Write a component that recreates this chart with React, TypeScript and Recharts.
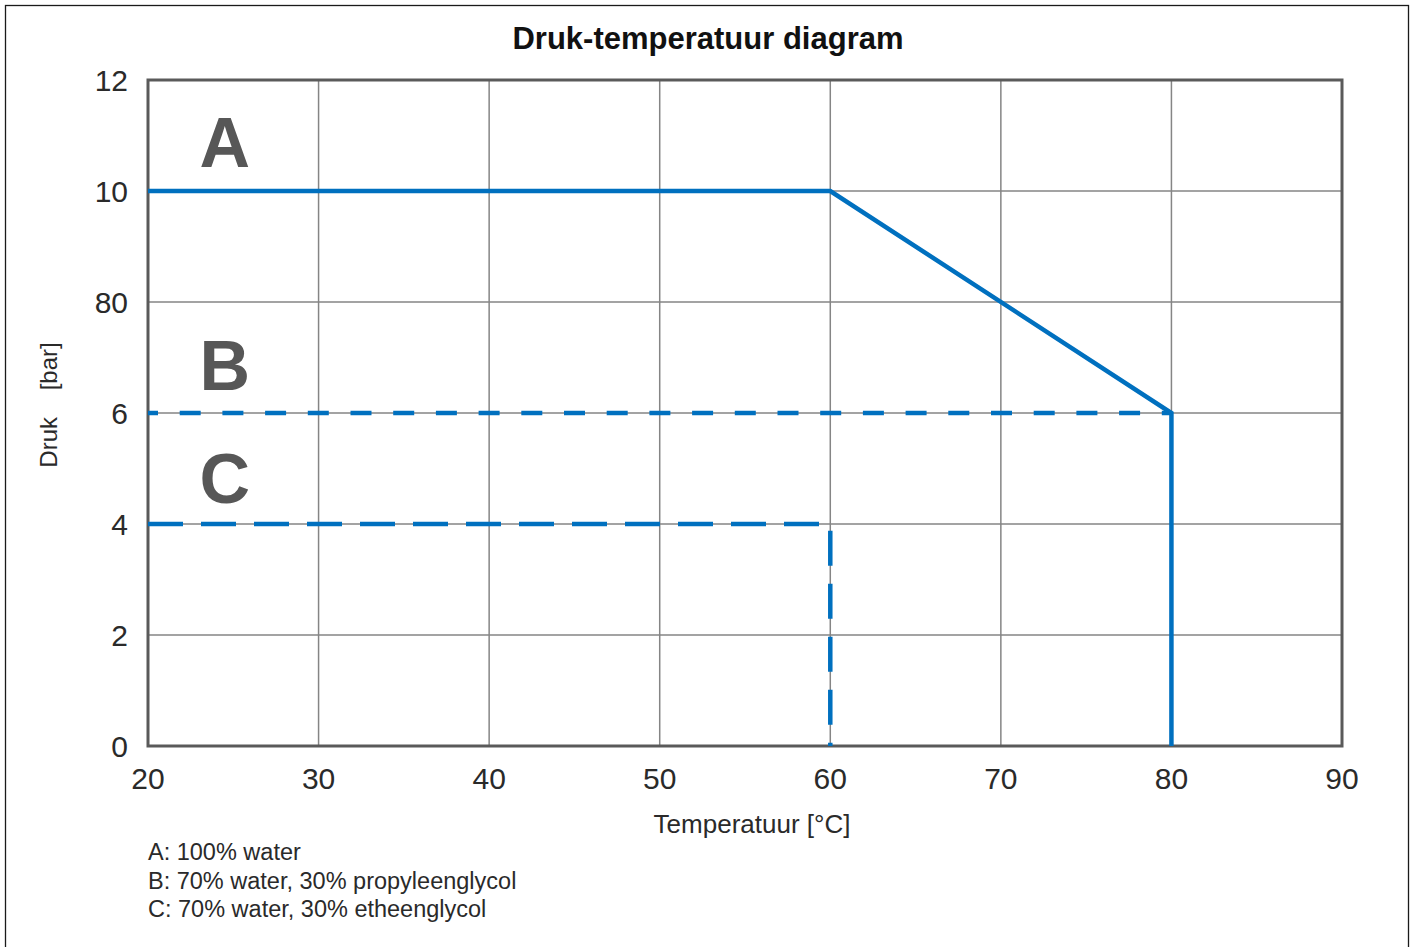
import { ComposedChart, Line, XAxis, YAxis, CartesianGrid, ReferenceArea, ReferenceDot } from 'recharts';

// temperature [°C] and pressure [bar] per medium
const A_TEMP = [20, 60, 80, 80];
const A_PRESS = [10, 10, 6, 0];
const B_TEMP = [20, 80];
const B_PRESS = [6, 6];
const C_TEMP = [20, 60, 60];
const C_PRESS = [4, 4, 0];

const X_TICKS = [20, 30, 40, 50, 60, 70, 80, 90];
const Y_TICKS = [0, 2, 4, 6, 8, 10, 12];
const Y_TICK_LABELS = ['0', '2', '4', '6', '80', '10', '12'];

const ZONES = ['A', 'B', 'C'];
const ZONE_TEMP = [24.5, 24.5, 24.5];
const ZONE_PRESS = [10.88, 6.86, 4.83];

const NOTES = ['A: 100% water', 'B: 70% water, 30% propyleenglycol', 'C: 70% water, 30% etheenglycol'];

const W = 1415;
const H = 947;
const FONT = '"Liberation Sans", Arial, Helvetica, sans-serif';
const BLUE = '#0070bf';

const toRows = (t: number[], p: number[]) => t.map((x, i) => ({ t: x, p: p[i] }));

export default function App() {
  const a = toRows(A_TEMP, A_PRESS);
  const b = toRows(B_TEMP, B_PRESS);
  const c = toRows(C_TEMP, C_PRESS);

  return (
    <div style={{ position: 'absolute', left: 0, top: 0, width: W, height: H, background: '#fff', fontFamily: FONT, overflow: 'hidden' }}>
      <ComposedChart width={W} height={H} margin={{ top: 80, right: 73, bottom: 0, left: 0 }}>
        <CartesianGrid stroke="#858585" strokeWidth={1.5} />
        <XAxis
          type="number"
          dataKey="t"
          domain={[20, 90]}
          ticks={X_TICKS}
          height={201}
          axisLine={false}
          tickLine={false}
          tickSize={0}
          tickMargin={22}
          tick={{ fontSize: 30, fill: '#2a2a2a', fontFamily: FONT }}
          allowDataOverflow
        />
        <YAxis
          type="number"
          dataKey="p"
          domain={[0, 12]}
          ticks={Y_TICKS}
          width={148}
          axisLine={false}
          tickLine={false}
          tickSize={0}
          tickMargin={20}
          tickFormatter={(v: number) => Y_TICK_LABELS[Y_TICKS.indexOf(v)]}
          tick={{ fontSize: 30, fill: '#2a2a2a', fontFamily: FONT }}
        />
        <ReferenceArea x1={20} x2={90} y1={0} y2={12} fill="none" stroke="#5a5a5a" strokeWidth={3} ifOverflow="visible" />
        {ZONES.map((z, i) => (
          <ReferenceDot
            key={z}
            x={ZONE_TEMP[i]}
            y={ZONE_PRESS[i]}
            r={0}
            stroke="none"
            fill="none"
            label={{ value: z, position: 'center', fontSize: 70, fontWeight: 'bold', fill: '#575757', fontFamily: FONT }}
          />
        ))}
        <Line data={b} dataKey="p" type="linear" stroke={BLUE} strokeWidth={4.5} strokeDasharray="21 21.7" strokeDashoffset={11} dot={false} activeDot={false} isAnimationActive={false} />
        <Line data={c} dataKey="p" type="linear" stroke={BLUE} strokeWidth={4.5} strokeDasharray="35 18" dot={false} activeDot={false} isAnimationActive={false} />
        <Line data={a} dataKey="p" type="linear" stroke={BLUE} strokeWidth={4.5} dot={false} activeDot={false} isAnimationActive={false} />
      </ComposedChart>
      <svg width={W} height={H} style={{ position: 'absolute', left: 0, top: 0, pointerEvents: 'none' }} fontFamily={FONT}>
        <rect x={5.5} y={5.5} width={1403} height={980} fill="none" stroke="#1a1a1a" strokeWidth={1.3} />
        <text x={708} y={49} textAnchor="middle" fontSize={31} fontWeight="bold" fill="#111">
          Druk-temperatuur diagram
        </text>
        <text x={752} y={833} textAnchor="middle" fontSize={26} fill="#2a2a2a">
          Temperatuur [°C]
        </text>
        <text transform="translate(57,405) rotate(-90)" textAnchor="middle" fontSize={24} fill="#2a2a2a" style={{ whiteSpace: 'pre' }}>
          {'Druk    [bar]'}
        </text>
        {NOTES.map((n, i) => (
          <text key={n} x={148} y={860 + i * 28.6} fontSize={23.5} fill="#2a2a2a">
            {n}
          </text>
        ))}
      </svg>
    </div>
  );
}
